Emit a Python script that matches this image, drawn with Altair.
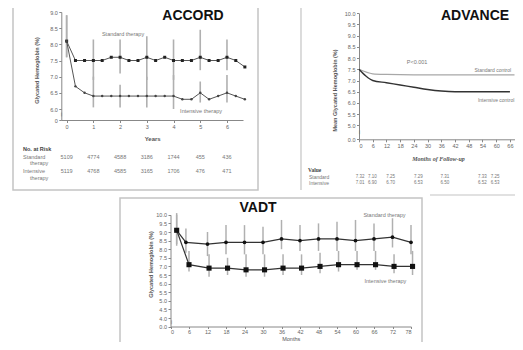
import altair as alt
import pandas as pd

# ---------------- ACCORD ----------------
accord_years = [0, 0.33, 0.67, 1.0, 1.33, 1.67, 2.0, 2.33, 2.67, 3.0, 3.33, 3.67,
                4.0, 4.33, 4.67, 5.0, 5.33, 5.67, 6.0, 6.33, 6.67]
accord_standard = [8.1, 7.5, 7.5, 7.5, 7.5, 7.6, 7.6, 7.5, 7.5, 7.6, 7.5, 7.6,
                   7.5, 7.5, 7.5, 7.6, 7.5, 7.5, 7.6, 7.5, 7.3]
accord_intensive = [8.1, 6.7, 6.5, 6.4, 6.4, 6.4, 6.4, 6.4, 6.4, 6.4, 6.4, 6.4,
                    6.4, 6.3, 6.3, 6.5, 6.3, 6.4, 6.5, 6.4, 6.3]
accord_bar_years = [0, 1, 2, 3, 4, 5, 6]
accord_std_low = [7.6, 6.9, 7.1, 6.9, 6.9, 7.2, 7.2]
accord_std_high = [8.9, 8.15, 8.15, 8.25, 8.15, 8.45, 8.15]
accord_int_low = [7.6, 6.05, 6.05, 6.05, 6.0, 6.2, 6.2]
accord_int_high = [8.9, 7.0, 6.75, 7.0, 7.05, 6.85, 7.05]
accord_risk_years = [0, 1, 2, 3, 4, 5, 6]
accord_risk_std = ["5109", "4774", "4588", "3186", "1744", "455", "436"]
accord_risk_int = ["5119", "4768", "4585", "3165", "1706", "476", "471"]
accord_ticks_y = [0, 6.0, 6.5, 7.0, 7.5, 8.0, 8.5, 9.0]

# ---------------- ADVANCE ----------------
advance_std_months = [0, 6, 12, 24, 36, 48, 60, 68]
advance_std = [7.5, 7.3, 7.27, 7.25, 7.25, 7.25, 7.25, 7.25]
advance_int_months = [0, 3, 6, 12, 18, 24, 30, 36, 42, 54, 66]
advance_int = [7.5, 7.2, 7.0, 6.9, 6.8, 6.7, 6.6, 6.53, 6.5, 6.5, 6.5]
advance_table_months = [0.5, 5.8, 13.8, 26, 37.5, 54, 59.5]
advance_table_std = ["7.32", "7.10", "7.25", "7.29", "7.31", "7.33", "7.25"]
advance_table_int = ["7.01", "6.90", "6.70", "6.53", "6.50", "6.52", "6.53"]
advance_ticks_y = [0, 5.0, 5.5, 6.0, 6.5, 7.0, 7.5, 8.0, 8.5, 9.0, 9.5, 10.0]
advance_ticks_x = [0, 6, 12, 18, 24, 30, 36, 42, 48, 54, 60, 66]

# ---------------- VADT ----------------
vadt_std_months = [2, 5, 12, 18, 24, 30, 36, 42, 48, 54, 60, 66, 72, 78]
vadt_standard = [9.1, 8.4, 8.3, 8.4, 8.4, 8.4, 8.6, 8.5, 8.6, 8.6, 8.5, 8.6, 8.7, 8.4]
vadt_std_low = [8.3, 7.8, 7.6, 7.7, 7.7, 7.7, 8.0, 7.9, 7.9, 7.9, 7.9, 7.9, 8.1, 7.7]
vadt_std_high = [10.1, 9.2, 9.0, 9.4, 9.4, 9.3, 9.7, 9.4, 9.5, 9.6, 9.7, 9.5, 9.8, 9.4]
vadt_int_months = [2, 6, 12.5, 18.5, 24.5, 30.5, 36.5, 42.5, 48.5, 54.5, 60.5, 66.5, 72.5, 78.5]
vadt_intensive = [9.1, 7.1, 6.9, 6.9, 6.8, 6.8, 6.9, 6.9, 7.0, 7.1, 7.1, 7.1, 7.0, 7.0]
vadt_int_low = [8.2, 6.7, 6.4, 6.5, 6.4, 6.4, 6.5, 6.5, 6.6, 6.7, 6.8, 6.8, 6.6, 6.5]
vadt_int_high = [10.0, 7.9, 7.7, 7.5, 7.7, 7.7, 7.7, 7.7, 7.8, 7.9, 7.9, 7.9, 7.7, 7.9]
vadt_ticks_y = [0, 4.0, 4.5, 5.0, 5.5, 6.0, 6.5, 7.0, 7.5, 8.0, 8.5, 9.0, 9.5, 10.0]
vadt_ticks_x = [0, 6, 12, 18, 24, 30, 36, 42, 48, 54, 60, 66, 72, 78]

FONT = "Liberation Sans"
W, H = 507, 334
ONE = pd.DataFrame({"k": [0]})
layers = []


def ax(**kw):
    base = dict(grid=False, domainColor="#888", tickColor="#888", labelColor="#666",
                labelFont=FONT, labelFontSize=5.5, tickSize=2.5, labelPadding=1.5,
                titleFont=FONT, titleFontSize=6, titleColor="#555",
                titleFontWeight="bold", domainWidth=1, tickWidth=1, labelOverlap=False)
    base.update(kw)
    return alt.Axis(**base)


def small_text(df, xenc, yenc, size=5.5, color="#666", align="center", weight="normal",
               font=FONT):
    return alt.Chart(df).mark_text(fontSize=size, color=color, align=align, font=font,
                                   fontWeight=weight, baseline="middle").encode(
        x=xenc, y=yenc, text="label:N")


def fixed_text(txt, x, y, size=5.5, color="#777", align="left", weight="normal",
               font=FONT, baseline="middle"):
    return alt.Chart(ONE).mark_text(text=txt, fontSize=size, color=color, align=align,
                                    fontWeight=weight, font=font, baseline=baseline).encode(
        x=alt.value(x), y=alt.value(y))


def axis_break(xenc, yenc, xval, yval):
    # small wavy mark on the y axis, showing the broken scale between 0 and the first tick
    return alt.Chart(pd.DataFrame({"bx": [xval], "by": [yval], "label": ["~"]})).mark_text(
        fontSize=8, color="#777", angle=90, font=FONT, align="center", baseline="middle"
    ).encode(x=xenc, y=yenc, text="label:N")


# ======== frames (outlines only, so axes stay visible) ========
frame = dict(fill=None, stroke="#c4c4c4", strokeWidth=1.5)
layers.append(alt.Chart(ONE).mark_rect(**frame).encode(
    x=alt.value(5), x2=alt.value(250), y=alt.value(-10), y2=alt.value(182)))
layers.append(alt.Chart(ONE).mark_rule(color="#c4c4c4", strokeWidth=1.2).encode(
    x=alt.value(293), y=alt.value(-5), y2=alt.value(182)))
layers.append(alt.Chart(ONE).mark_rule(color="#c4c4c4", strokeWidth=1.2).encode(
    x=alt.value(422), x2=alt.value(520), y=alt.value(187)))
layers.append(alt.Chart(ONE).mark_rect(**frame).encode(
    x=alt.value(112), x2=alt.value(414), y=alt.value(190), y2=alt.value(400)))

# ======== ACCORD panel ========
acc_xs = alt.Scale(domain=[-0.2, 6.6], range=[53.3, 235], nice=False, zero=False)
acc_ys = alt.Scale(domain=[0, 6, 9], range=[112, 101, 4], nice=False, zero=False)
ax_acc = alt.X("t:Q", scale=acc_xs, axis=None)
ay_acc = alt.Y("v:Q", scale=acc_ys, axis=None)

acc_lines = pd.DataFrame({
    "t": accord_years * 2,
    "v": accord_standard + accord_intensive,
    "g": ["Standard"] * len(accord_years) + ["Intensive"] * len(accord_years),
})
acc_bars = pd.DataFrame({
    "t": accord_bar_years * 2,
    "lo": accord_std_low + accord_int_low,
    "hi": accord_std_high + accord_int_high,
})

layers.append(alt.Chart(acc_bars).mark_rule(color="#b0b0b0", strokeWidth=1.6).encode(
    x=alt.X("t:Q", scale=acc_xs,
            axis=ax(orient="bottom", offset=112 - H, values=accord_risk_years, format="d",
                    title="Years", titleY=18, titleBaseline="middle")),
    y=alt.Y("lo:Q", scale=acc_ys,
            axis=ax(orient="left", offset=-53.3, values=accord_ticks_y,
                    labelExpr="datum.value == 0 ? '0' : format(datum.value, '.1f')",
                    title="Glycated Hemoglobin (%)", titleX=-22, titleY=62,
                    titleFontSize=5.5)),
    y2="hi:Q",
))
layers.append(alt.Chart(acc_lines).mark_line(color="#555", strokeWidth=1).encode(
    x=ax_acc, y=ay_acc, detail="g:N"))
layers.append(alt.Chart(acc_lines[acc_lines.g == "Standard"]).mark_point(
    shape="square", filled=True, size=9, color="#222", opacity=1).encode(x=ax_acc, y=ay_acc))
layers.append(alt.Chart(acc_lines[acc_lines.g == "Intensive"]).mark_point(
    shape="circle", filled=True, size=6, color="#444", opacity=1).encode(x=ax_acc, y=ay_acc))
layers.append(small_text(
    pd.DataFrame({"t": [2.11, 5.03], "v": [8.32, 4.9],
                  "label": ["Standard therapy", "Intensive therapy"]}),
    ax_acc, ay_acc, size=5.5, color="#777"))
layers.append(small_text(pd.DataFrame({"t": accord_risk_years, "label": accord_risk_std}),
                         ax_acc, alt.value(149), color="#777"))
layers.append(small_text(pd.DataFrame({"t": accord_risk_years, "label": accord_risk_int}),
                         ax_acc, alt.value(163), color="#777"))
layers.append(axis_break(alt.X("bx:Q", scale=acc_xs, axis=None),
                         alt.Y("by:Q", scale=acc_ys, axis=None), -0.2, 3))
layers.append(fixed_text("No. at Risk", 15, 141, weight="bold", color="#444"))
layers.append(fixed_text("Standard", 15, 149))
layers.append(fixed_text("therapy", 22, 155))
layers.append(fixed_text("Intensive", 15, 163))
layers.append(fixed_text("therapy", 22, 170))

# ======== ADVANCE panel ========
adv_xs = alt.Scale(domain=[0, 68], range=[351, 506.5], nice=False, zero=False)
adv_ys = alt.Scale(domain=[0, 5, 10], range=[131.3, 117.3, 5.3], nice=False, zero=False)
ax_adv = alt.X("m:Q", scale=adv_xs, axis=None)
ay_adv = alt.Y("v:Q", scale=adv_ys, axis=None)

adv_std_df = pd.DataFrame({"m": advance_std_months, "v": advance_std})
adv_int_df = pd.DataFrame({"m": advance_int_months, "v": advance_int})

layers.append(alt.Chart(adv_std_df).mark_line(color="#a8a8a8", strokeWidth=1.2,
                                              interpolate="monotone").encode(
    x=alt.X("m:Q", scale=adv_xs,
            axis=ax(orient="bottom", offset=131.3 - H, values=advance_ticks_x, format="d",
                    title="Months of Follow-up", titleFont="Liberation Serif",
                    titleFontStyle="italic", titleX=430, titleY=18.7, titleBaseline="middle")),
    y=alt.Y("v:Q", scale=adv_ys,
            axis=ax(orient="left", offset=-351, values=advance_ticks_y, format=".1f",
                    title="Mean Glycated Hemoglobin (%)", titleX=-22, titleY=82,
                    titleFontSize=5.5)),
))
layers.append(alt.Chart(adv_int_df).mark_line(color="#333", strokeWidth=1.4,
                                              interpolate="monotone").encode(x=ax_adv, y=ay_adv))
layers.append(small_text(pd.DataFrame({"m": [25.4], "v": [7.83], "label": ["P<0.001"]}),
                         ax_adv, ay_adv, color="#777"))
layers.append(small_text(pd.DataFrame({"m": [50.5, 52.0], "v": [7.47, 6.13],
                                       "label": ["Standard control", "Intensive control"]}),
                         ax_adv, ay_adv, size=5, color="#777", align="left"))
layers.append(small_text(pd.DataFrame({"m": advance_table_months, "label": advance_table_std}),
                         ax_adv, alt.value(169), size=4.5, color="#777"))
layers.append(small_text(pd.DataFrame({"m": advance_table_months, "label": advance_table_int}),
                         ax_adv, alt.value(175), size=4.5, color="#777"))
layers.append(axis_break(alt.X("bx:Q", scale=adv_xs, axis=None),
                         alt.Y("by:Q", scale=adv_ys, axis=None), 0, 2.5))
layers.append(fixed_text("Value", 300, 162, weight="bold", color="#444", font="Liberation Serif"))
layers.append(fixed_text("Standard", 301, 169, size=5))
layers.append(fixed_text("Intensive", 301, 175, size=5))

# ======== VADT panel ========
VB = 318.5  # x-axis line of the VADT plot
vadt_xs = alt.Scale(domain=[0, 78], range=[162.5, 403], nice=False, zero=False)
vadt_ys = alt.Scale(domain=[0, 4, 10], range=[VB, VB - 8.5, VB - 111.7], nice=False, zero=False)
vx = alt.X("m:Q", scale=vadt_xs, axis=None)
vy = alt.Y("v:Q", scale=vadt_ys, axis=None)

vadt_std_df = pd.DataFrame({"m": vadt_std_months, "v": vadt_standard,
                            "lo": vadt_std_low, "hi": vadt_std_high})
vadt_int_df = pd.DataFrame({"m": vadt_int_months, "v": vadt_intensive,
                            "lo": vadt_int_low, "hi": vadt_int_high})
vadt_bars = pd.concat([vadt_std_df, vadt_int_df], ignore_index=True)

layers.append(alt.Chart(vadt_bars).mark_rule(color="#b0b0b0", strokeWidth=1.5).encode(
    x=alt.X("m:Q", scale=vadt_xs,
            axis=ax(orient="bottom", offset=VB - H, values=vadt_ticks_x, format="d",
                    tickSize=2, labelPadding=1,
                    title="Months", titleFontWeight="normal", titleY=12.3,
                    titleFontSize=5.5, titleBaseline="middle")),
    y=alt.Y("lo:Q", scale=vadt_ys,
            axis=ax(orient="left", offset=-162.5, values=vadt_ticks_y, format=".1f",
                    title="Glycated Hemoglobin (%)", titleX=-17, titleY=256,
                    titleFontSize=5.5)),
    y2="hi:Q",
))
layers.append(alt.Chart(vadt_std_df).mark_line(color="#333", strokeWidth=1.2).encode(x=vx, y=vy))
layers.append(alt.Chart(vadt_int_df).mark_line(color="#333", strokeWidth=1.2).encode(x=vx, y=vy))
layers.append(alt.Chart(vadt_std_df).mark_point(shape="circle", filled=True, size=14,
                                                color="#111", opacity=1).encode(x=vx, y=vy))
layers.append(alt.Chart(vadt_int_df).mark_point(shape="square", filled=True, size=26,
                                                color="#111", opacity=1).encode(x=vx, y=vy))
layers.append(small_text(
    pd.DataFrame({"m": [69.4, 69.7], "v": [9.99, 6.15],
                  "label": ["Standard therapy", "Intensive therapy"]}),
    vx, vy, size=5.5, color="#777"))
layers.append(axis_break(alt.X("bx:Q", scale=vadt_xs, axis=None),
                         alt.Y("by:Q", scale=vadt_ys, axis=None), 0, 2))

# ======== titles ========
layers.append(fixed_text("ACCORD", 185, 12, size=14, color="#111", align="center",
                         weight="bold", baseline="alphabetic"))
layers.append(fixed_text("ADVANCE", 467, 12, size=14, color="#111", align="center",
                         weight="bold", baseline="alphabetic"))
layers.append(fixed_text("VADT", 250, 204, size=14, color="#111", align="center",
                         weight="bold", baseline="alphabetic"))

chart = alt.layer(*layers).resolve_scale(
    x="independent", y="independent"
).resolve_axis(
    x="independent", y="independent"
).properties(
    width=W, height=H, padding=0, autosize=alt.AutoSizeParams(type="none"),
    background="white"
).configure_view(stroke=None)

chart.save("out.html", embed_options={"renderer": "svg", "actions": False})
